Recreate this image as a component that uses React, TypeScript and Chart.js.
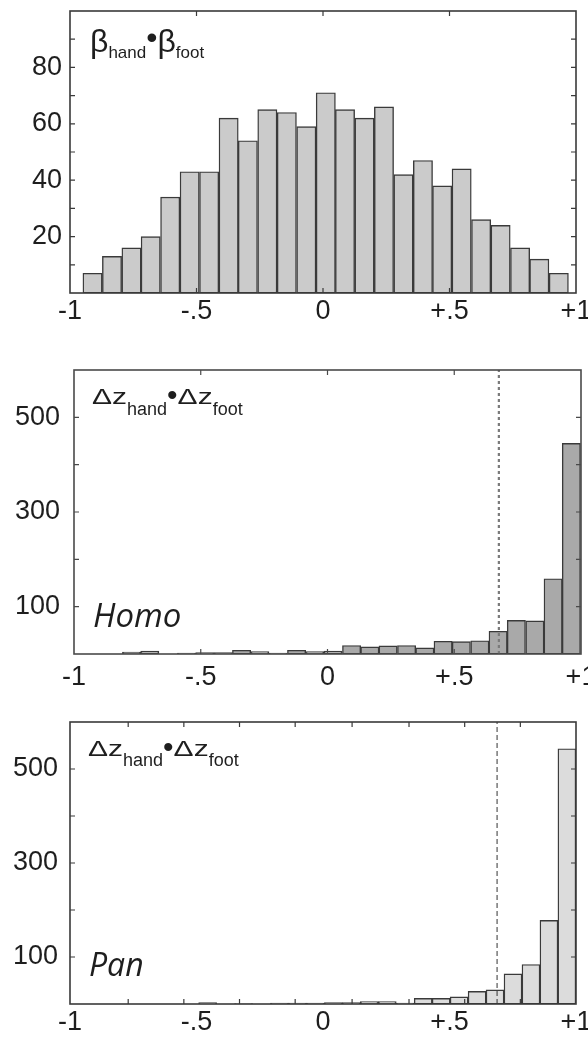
import React, { useEffect, useRef } from "react";
import { Chart, registerables } from "chart.js";

Chart.register(...registerables);

// ---------- shared axis text ----------
const xTickValues = [-1, -0.5, 0, 0.5, 1];
const xTickLabels = ["-1", "-.5", "0", "+.5", "+1"];

// ---------- panel 1 : beta_hand . beta_foot ----------
const betaBinCenters = [
  -0.911, -0.834, -0.757, -0.681, -0.604, -0.527, -0.45, -0.373, -0.297, -0.22,
  -0.143, -0.066, 0.011, 0.087, 0.164, 0.241, 0.318, 0.395, 0.471, 0.548,
  0.625, 0.702, 0.779, 0.855, 0.932,
];
const betaCounts = [
  7, 13, 16, 20, 34, 43, 43, 62, 54, 65, 64, 59, 71, 65, 62, 66, 42, 47, 38, 44,
  26, 24, 16, 12, 7,
];
const betaYLabelTicks = [20, 40, 60, 80];
const betaYFrameTicks = [10, 20, 30, 40, 50, 60, 70, 80, 90];
const betaXFrameTicks = [-0.5, 0, 0.5];

// ---------- panel 2 : Homo ----------
const homoBinCenters = [
  -0.773, -0.701, -0.628, -0.556, -0.484, -0.411, -0.339, -0.267, -0.195, -0.122,
  -0.05, 0.022, 0.095, 0.167, 0.239, 0.312, 0.384, 0.456, 0.528, 0.601,
  0.673, 0.745, 0.818, 0.89, 0.962,
];
const homoCounts = [
  4, 6, 0, 2, 3, 3, 8, 5, 2, 8, 5, 6, 18, 15, 17, 18, 13, 27, 26, 28, 48, 71, 70,
  159, 445,
];
const homoThreshold = 0.676;

// ---------- panel 3 : Pan ----------
const panBinCenters = [
  -0.74, -0.669, -0.598, -0.527, -0.456, -0.385, -0.314, -0.243, -0.172, -0.101,
  -0.03, 0.041, 0.112, 0.183, 0.254, 0.325, 0.396, 0.467, 0.538, 0.609,
  0.68, 0.751, 0.822, 0.893, 0.964,
];
const panCounts = [
  0, 0, 0, 0, 3, 0, 1, 0, 2, 2, 2, 3, 3, 5, 5, 2, 12, 12, 15, 27, 30, 64, 84,
  178, 543,
];
const panThreshold = 0.688;

const countYLabelTicks = [100, 300, 500];
const countYFrameTicks = [100, 200, 300, 400, 500];
const homoXFrameTicks = [-0.5, 0, 0.5];
const panXFrameTicks = [-0.77, -0.55, -0.33, -0.11, 0.115, 0.34, 0.56, 0.78];

const FONT = "'Liberation Sans', Arial, Helvetica, sans-serif";
const TEXT = "#1e1e1e";

const framePlugin = {
  id: "frame",
  afterDatasetsDraw(chart: any, _args: any, opts: any) {
    const { ctx, chartArea, scales } = chart;
    const { left, right, top, bottom } = chartArea;
    const x = scales.x;
    const y = scales.y;
    ctx.save();
    ctx.strokeStyle = opts.color;
    ctx.lineWidth = opts.width;
    ctx.strokeRect(left, top, right - left, bottom - top);
    const L = 5;
    ctx.beginPath();
    for (const v of opts.yTicks) {
      const py = y.getPixelForValue(v);
      ctx.moveTo(left, py);
      ctx.lineTo(left + L, py);
      ctx.moveTo(right, py);
      ctx.lineTo(right - L, py);
    }
    for (const v of opts.xTicks) {
      const px = x.getPixelForValue(v);
      ctx.moveTo(px, top);
      ctx.lineTo(px, top + L);
      ctx.moveTo(px, bottom);
      ctx.lineTo(px, bottom - L);
    }
    ctx.lineWidth = 1.2;
    ctx.stroke();
    ctx.restore();
  },
};

type PanelProps = {
  top: number;
  areaHeight: number;
  areaLeft: number;
  areaRight: number;
  centers: number[];
  counts: number[];
  fill: string;
  yMax: number;
  yLabelTicks: number[];
  yFrameTicks: number[];
  xFrameTicks: number[];
  yPad: number;
  xPad: number;
  threshold?: number;
  lineColor?: string;
  lineWidth?: number;
  dash?: number[];
  frameColor: string;
};

const CANVAS_W = 600;
const PAD_TOP = 10;
const X_AXIS_H = 36;

function HistPanel(p: PanelProps) {
  const ref = useRef<HTMLCanvasElement>(null);
  const height = PAD_TOP + p.areaHeight + X_AXIS_H;
  useEffect(() => {
    const datasets: any[] = [
      {
        type: "bar",
        data: p.centers.map((c, i) => ({ x: c, y: p.counts[i] })),
        backgroundColor: p.fill,
        borderColor: "#3a3a3a",
        borderWidth: 1.4,
        borderSkipped: false,
        barPercentage: 1,
        categoryPercentage: 1,
        order: 2,
      },
    ];
    if (p.threshold !== undefined) {
      datasets.push({
        type: "line",
        data: [
          { x: p.threshold, y: 0 },
          { x: p.threshold, y: p.yMax },
        ],
        borderColor: p.lineColor,
        borderWidth: p.lineWidth,
        borderDash: p.dash,
        pointRadius: 0,
        order: 1,
      });
    }
    const chart = new Chart(ref.current as HTMLCanvasElement, {
      type: "bar",
      data: { datasets },
      options: {
        animation: false,
        responsive: false,
        maintainAspectRatio: false,
        layout: {
          padding: { top: PAD_TOP, left: 0, right: CANVAS_W - p.areaRight, bottom: 0 },
        },
        plugins: {
          legend: { display: false },
          tooltip: { enabled: false },
          frame: {
            color: p.frameColor,
            width: 1.6,
            yTicks: p.yFrameTicks,
            xTicks: p.xFrameTicks,
          },
        } as any,
        scales: {
          x: {
            type: "linear",
            min: -1,
            max: 1,
            offset: false,
            grid: { display: false, drawTicks: false },
            border: { display: false },
            afterBuildTicks: (s: any) => {
              s.ticks = xTickValues.map((v) => ({ value: v }));
            },
            afterFit: (s: any) => {
              s.height = X_AXIS_H;
              s.paddingLeft = 0;
              s.paddingRight = 0;
            },
            ticks: {
              autoSkip: false,
              maxRotation: 0,
              minRotation: 0,
              padding: p.xPad,
              color: TEXT,
              font: { family: FONT, size: 27 },
              callback: (v: any) => xTickLabels[xTickValues.indexOf(Number(v))] ?? "",
            },
          },
          y: {
            type: "linear",
            min: 0,
            max: p.yMax,
            grid: { display: false, drawTicks: false },
            border: { display: false },
            afterBuildTicks: (s: any) => {
              s.ticks = p.yLabelTicks.map((v) => ({ value: v }));
            },
            afterFit: (s: any) => {
              s.width = p.areaLeft;
              s.paddingTop = 0;
              s.paddingBottom = 0;
            },
            ticks: {
              padding: p.yPad,
              color: TEXT,
              font: { family: FONT, size: 27 },
              callback: (v: any) => String(v),
            },
          },
        } as any,
      },
      plugins: [framePlugin],
    });
    return () => chart.destroy();
  }, []);
  return (
    <canvas
      ref={ref}
      width={CANVAS_W}
      height={height}
      style={{
        position: "absolute",
        left: 0,
        top: p.top - PAD_TOP,
        width: CANVAS_W,
        height,
      }}
    />
  );
}

const scaledMain = (txt: string) => (
  <span
    style={{
      display: "inline-block",
      transform: "scaleY(0.72)",
      transformOrigin: "50% 25.4px",
    }}
  >
    {txt}
  </span>
);

export default function App() {
  return (
    <div
      style={{
        position: "fixed",
        left: 0,
        top: 0,
        width: 588,
        height: 1038,
        overflow: "hidden",
        background: "#ffffff",
      }}
    >
      <HistPanel
        top={11}
        areaHeight={282}
        areaLeft={70}
        areaRight={576}
        centers={betaBinCenters}
        counts={betaCounts}
        fill="#cbcbcb"
        yMax={100}
        yLabelTicks={betaYLabelTicks}
        yFrameTicks={betaYFrameTicks}
        xFrameTicks={betaXFrameTicks}
        yPad={8}
        xPad={2}
        frameColor="#3a3a3a"
      />
      <HistPanel
        top={370}
        areaHeight={284}
        areaLeft={74}
        areaRight={581}
        centers={homoBinCenters}
        counts={homoCounts}
        fill="#a9a9a9"
        yMax={600}
        yLabelTicks={countYLabelTicks}
        yFrameTicks={countYFrameTicks}
        xFrameTicks={homoXFrameTicks}
        yPad={14}
        xPad={7}
        threshold={homoThreshold}
        lineColor="#7a7a7a"
        lineWidth={2.2}
        dash={[3, 3]}
        frameColor="#4a4a4a"
      />
      <HistPanel
        top={722}
        areaHeight={282}
        areaLeft={70}
        areaRight={576}
        centers={panBinCenters}
        counts={panCounts}
        fill="#dcdcdc"
        yMax={600}
        yLabelTicks={countYLabelTicks}
        yFrameTicks={countYFrameTicks}
        xFrameTicks={panXFrameTicks}
        yPad={12}
        xPad={2}
        threshold={panThreshold}
        lineColor="#333333"
        lineWidth={1}
        dash={[5, 3]}
        frameColor="#3a3a3a"
      />

      {/* panel 1 label */}
      <div
        style={{
          position: "absolute",
          left: 90,
          top: 21,
          fontFamily: FONT,
          fontSize: 32,
          lineHeight: 1,
          color: TEXT,
          whiteSpace: "nowrap",
        }}
      >
        <span>β</span>
        <span style={{ fontSize: 17, verticalAlign: -6 }}>hand</span>
        <span style={{ verticalAlign: 4 }}>•</span>
        <span>β</span>
        <span style={{ fontSize: 17, verticalAlign: -6 }}>foot</span>
      </div>

      {/* panel 2 label */}
      <div
        style={{
          position: "absolute",
          left: 92,
          top: 379,
          fontFamily: FONT,
          fontSize: 30,
          lineHeight: 1,
          color: TEXT,
          whiteSpace: "nowrap",
        }}
      >
        {scaledMain("Δz")}
        <span style={{ fontSize: 18, verticalAlign: -11 }}>hand</span>
        <span style={{ verticalAlign: -1 }}>•</span>
        {scaledMain("Δz")}
        <span style={{ fontSize: 18, verticalAlign: -11 }}>foot</span>
      </div>
      <div
        style={{
          position: "absolute",
          left: 93,
          top: 598,
          fontFamily: "'Open Sans', sans-serif",
          fontStyle: "italic",
          fontSize: 33,
          lineHeight: 1,
          color: TEXT,
        }}
      >
        Homo
      </div>

      {/* panel 3 label */}
      <div
        style={{
          position: "absolute",
          left: 88,
          top: 731,
          fontFamily: FONT,
          fontSize: 30,
          lineHeight: 1,
          color: TEXT,
          whiteSpace: "nowrap",
        }}
      >
        {scaledMain("Δz")}
        <span style={{ fontSize: 18, verticalAlign: -10 }}>hand</span>
        <span style={{ verticalAlign: -1 }}>•</span>
        {scaledMain("Δz")}
        <span style={{ fontSize: 18, verticalAlign: -10 }}>foot</span>
      </div>
      <div
        style={{
          position: "absolute",
          left: 89,
          top: 948,
          fontFamily: "'Open Sans', sans-serif",
          fontStyle: "italic",
          fontSize: 32,
          lineHeight: 1,
          color: TEXT,
        }}
      >
        Pan
      </div>
    </div>
  );
}
